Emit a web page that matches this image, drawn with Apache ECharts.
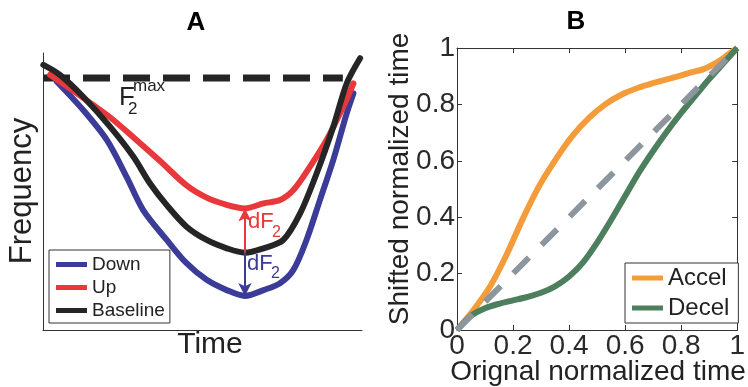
<!DOCTYPE html>
<html>
<head>
<meta charset="utf-8">
<script src="https://cdn.jsdelivr.net/npm/echarts@6/dist/echarts.min.js"></script>
<style>
html,body{margin:0;padding:0;background:#fff;}
#main{width:748px;height:387px;}
</style>
</head>
<body>
<div id="main"></div>
<script>
// ---------- Panel A data (arbitrary normalized units) ----------
const baselineTime = [0.001,0.053,0.126,0.21,0.283,0.335,0.388,0.45,0.513,0.576,0.633,0.691,0.753,0.806,0.858,0.91,0.952,0.994];
const baselineFreq = [0.957,0.921,0.842,0.734,0.626,0.530,0.451,0.373,0.325,0.295,0.279,0.295,0.325,0.421,0.566,0.734,0.89,0.981];
const upTime = [0.022,0.126,0.21,0.283,0.367,0.45,0.513,0.576,0.633,0.691,0.743,0.785,0.837,0.889,0.941,0.973];
const upFreq = [0.921,0.838,0.768,0.696,0.610,0.522,0.478,0.452,0.439,0.457,0.469,0.505,0.590,0.686,0.806,0.89];
const downTime = [0.043,0.126,0.2,0.262,0.314,0.388,0.45,0.513,0.576,0.633,0.691,0.743,0.785,0.826,0.868,0.91,0.952,0.973];
const downFreq = [0.897,0.794,0.686,0.553,0.433,0.325,0.241,0.181,0.144,0.123,0.144,0.169,0.217,0.325,0.469,0.614,0.782,0.854];
const f2maxTime = [0, 0.94];
const f2maxFreq = [0.91, 0.91];
const dfTime = 0.633;
const legendA = ['Down','Up','Baseline'];

// ---------- Panel B data ----------
const accelX = [0,0.059,0.118,0.176,0.235,0.294,0.353,0.412,0.471,0.529,0.588,0.647,0.706,0.765,0.824,0.882,0.929,0.965,1];
const accelY = [0,0.071,0.154,0.265,0.395,0.512,0.606,0.688,0.752,0.800,0.835,0.859,0.877,0.893,0.910,0.926,0.950,0.975,1];
const decelX = [0,0.05,0.1,0.15,0.2,0.25,0.3,0.35,0.4,0.45,0.5,0.55,0.6,0.65,0.7,0.75,0.8,0.85,0.9,0.95,1];
const decelY = [0,0.05,0.077,0.093,0.105,0.117,0.132,0.155,0.19,0.24,0.31,0.39,0.475,0.56,0.635,0.705,0.77,0.83,0.89,0.945,1];
const diagX = [0,1];
const diagY = [0,1];
const tickValuesB = [0,0.2,0.4,0.6,0.8,1];
const legendB = ['Accel','Decel'];

const FONT = "'Liberation Sans', Arial, Helvetica, sans-serif";
const zip = (a,b) => a.map((v,i)=>[v,b[i]]);
const baseAt = baselineFreq[baselineTime.indexOf(dfTime)];
const upAt = upFreq[upTime.indexOf(dfTime)];
const downAt = downFreq[downTime.indexOf(dfTime)];

const C = {blue:'#3b3b98', red:'#e8383b', black:'#252525', orange:'#f49b3a', green:'#4d7f5e', gray:'#8d959d', axis:'#333'};

const chart = echarts.init(document.getElementById('main'), null, {renderer:'canvas'});

function arrowLine(color, from, to){
  return {
    silent:true, animation:false,
    symbol:['none','arrow'], symbolSize:[10,13],
    label:{show:false},
    lineStyle:{color:color, width:2, type:'solid'},
    emphasis:{disabled:true},
    data:[[{coord:[dfTime, from]},{coord:[dfTime, to]}]]
  };
}
const fmt = (v)=> { const r = +v.toFixed(1); return tickValuesB.includes(r) ? String(r) : ''; };

const option = {
  animation:false,
  textStyle:{fontFamily:FONT},
  grid:[
    {left:43, top:53, width:319, height:277},
    {left:457, top:48, width:284, height:282}
  ],
  xAxis:[
    {gridIndex:0, type:'value', min:0, max:1, axisLine:{show:true, lineStyle:{color:C.axis,width:1}}, axisTick:{show:false}, axisLabel:{show:false}, splitLine:{show:false}},
    {gridIndex:1, type:'value', min:0, max:1, interval:0.2, position:'bottom',
      axisLine:{show:true, onZero:false, lineStyle:{color:C.axis,width:1}},
      axisTick:{show:true, inside:true, length:5, lineStyle:{color:C.axis}},
      axisLabel:{show:true, fontSize:28, color:'#2a2a2a', margin:2, fontFamily:FONT, formatter:fmt},
      splitLine:{show:false}},
    {gridIndex:1, type:'value', min:0, max:1, interval:0.2, position:'top',
      axisLine:{show:true, onZero:false, lineStyle:{color:C.axis,width:1}},
      axisTick:{show:true, inside:true, length:5, lineStyle:{color:C.axis}},
      axisLabel:{show:false}, splitLine:{show:false}}
  ],
  yAxis:[
    {gridIndex:0, type:'value', min:0, max:1, axisLine:{show:true, lineStyle:{color:C.axis,width:1}}, axisTick:{show:false}, axisLabel:{show:false}, splitLine:{show:false}},
    {gridIndex:1, type:'value', min:0, max:1, interval:0.2, position:'left',
      axisLine:{show:true, onZero:false, lineStyle:{color:C.axis,width:1}},
      axisTick:{show:true, inside:true, length:5, lineStyle:{color:C.axis}},
      axisLabel:{show:true, fontSize:28, color:'#2a2a2a', margin:2, fontFamily:FONT, formatter:fmt},
      splitLine:{show:false}},
    {gridIndex:1, type:'value', min:0, max:1, interval:0.2, position:'right',
      axisLine:{show:true, onZero:false, lineStyle:{color:C.axis,width:1}},
      axisTick:{show:true, inside:true, length:5, lineStyle:{color:C.axis}},
      axisLabel:{show:false}, splitLine:{show:false}}
  ],
  legend:[
    {data:legendA, orient:'vertical', left:49, top:250, itemWidth:31, itemHeight:5, itemGap:4,
      icon:'rect', padding:[5,5,3,7], borderColor:'#333', borderWidth:1, backgroundColor:'#fff',
      textStyle:{fontSize:19, lineHeight:19, color:'#222', fontFamily:FONT}, selectedMode:false},
    {data:legendB, orient:'vertical', left:625, top:263, itemWidth:31, itemHeight:5, itemGap:6,
      icon:'rect', padding:[3,9,3,7], borderColor:'#333', borderWidth:1, backgroundColor:'#fff',
      textStyle:{fontSize:24, lineHeight:24, color:'#222', fontFamily:FONT}, selectedMode:false}
  ],
  series:[
    {name:'F2max', type:'line', xAxisIndex:0, yAxisIndex:0, data:zip(f2maxTime,f2maxFreq), showSymbol:false, silent:true,
      lineStyle:{color:C.black, width:7, type:[27,13], cap:'butt'}, clip:false},
    {name:'Down', type:'line', xAxisIndex:0, yAxisIndex:0, data:zip(downTime,downFreq), showSymbol:false, smooth:0.3, clip:false,
      color:C.blue, lineStyle:{color:C.blue, width:6, cap:'round', join:'round'},
      markLine:arrowLine(C.blue, baseAt, downAt)},
    {name:'Up', type:'line', xAxisIndex:0, yAxisIndex:0, data:zip(upTime,upFreq), showSymbol:false, smooth:0.3, clip:false,
      color:C.red, lineStyle:{color:C.red, width:6, cap:'round', join:'round'},
      markLine:arrowLine(C.red, baseAt, upAt)},
    {name:'Baseline', type:'line', xAxisIndex:0, yAxisIndex:0, data:zip(baselineTime,baselineFreq), showSymbol:false, smooth:0.3, clip:false,
      color:C.black, lineStyle:{color:C.black, width:6, cap:'round', join:'round'}},
    {name:'Accel', type:'line', xAxisIndex:1, yAxisIndex:1, data:zip(accelX,accelY), showSymbol:false, smooth:0.3, clip:false,
      color:C.orange, lineStyle:{color:C.orange, width:6}},
    {name:'Decel', type:'line', xAxisIndex:1, yAxisIndex:1, data:zip(decelX,decelY), showSymbol:false, smooth:0.3, clip:false,
      color:C.green, lineStyle:{color:C.green, width:6}},
    {name:'Identity', type:'line', xAxisIndex:1, yAxisIndex:1, data:zip(diagX,diagY), showSymbol:false, clip:false, silent:true,
      lineStyle:{color:C.gray, width:6, type:[22,18], cap:'butt'}}
  ],
  graphic:[
    {type:'text', style:{text:'A', font:'bold 26px '+FONT, fill:'#000', x:196, y:23, align:'center', verticalAlign:'middle'}},
    {type:'text', style:{text:'B', font:'bold 26px '+FONT, fill:'#000', x:576, y:22, align:'center', verticalAlign:'middle'}},
    {type:'text', style:{text:'Time', font:'30px '+FONT, fill:'#222', x:210, y:345, align:'center', verticalAlign:'middle'}},
    {type:'text', rotation:Math.PI/2, x:22, y:191, style:{text:'Frequency', font:'31px '+FONT, fill:'#222', x:0, y:0, align:'center', verticalAlign:'middle'}},
    {type:'text', style:{text:'Orignal normalized time', font:'28px '+FONT, fill:'#222', x:598, y:372, align:'center', verticalAlign:'middle'}},
    {type:'text', rotation:Math.PI/2, x:400, y:179, style:{text:'Shifted normalized time', font:'28px '+FONT, fill:'#222', x:0, y:0, align:'center', verticalAlign:'middle'}},
    {type:'text', style:{text:'F', font:'26px '+FONT, fill:'#222', x:119, y:98, align:'left', verticalAlign:'middle'}},
    {type:'text', style:{text:'2', font:'17px '+FONT, fill:'#222', x:128, y:109, align:'left', verticalAlign:'middle'}},
    {type:'text', style:{text:'max', font:'17px '+FONT, fill:'#222', x:133, y:86, align:'left', verticalAlign:'middle'}},
    {type:'text', style:{text:'dF', font:'22px '+FONT, fill:C.red, x:248, y:222, align:'left', verticalAlign:'middle'}},
    {type:'text', style:{text:'2', font:'16px '+FONT, fill:C.red, x:272, y:233, align:'left', verticalAlign:'middle'}},
    {type:'text', style:{text:'dF', font:'22px '+FONT, fill:C.blue, x:247, y:264, align:'left', verticalAlign:'middle'}},
    {type:'text', style:{text:'2', font:'16px '+FONT, fill:C.blue, x:271, y:274, align:'left', verticalAlign:'middle'}}
  ]
};
chart.setOption(option);
</script>
</body>
</html>
